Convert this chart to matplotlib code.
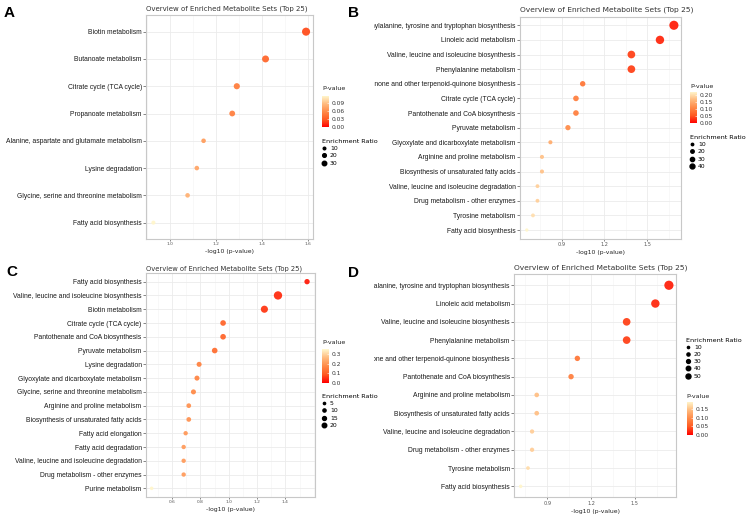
import numpy as np
import matplotlib
matplotlib.use("Agg")
import matplotlib.pyplot as plt
import matplotlib.cm as cm
from matplotlib.colors import LinearSegmentedColormap, Normalize
from matplotlib.lines import Line2D
from matplotlib.ticker import AutoMinorLocator
from matplotlib.transforms import Bbox, TransformedBbox

# ---- data ----
a_names = ["Biotin metabolism", "Butanoate metabolism", "Citrate cycle (TCA cycle)",
           "Propanoate metabolism", "Alanine, aspartate and glutamate metabolism",
           "Lysine degradation", "Glycine, serine and threonine metabolism",
           "Fatty acid biosynthesis"]
a_pval = [0.0256, 0.0384, 0.0512, 0.0536, 0.0714, 0.0764, 0.0838, 0.118]
a_ratio = [31, 23, 18, 16, 10, 10, 10, 8]

b_names = ["Phenylalanine, tyrosine and tryptophan biosynthesis", "Linoleic acid metabolism",
           "Valine, leucine and isoleucine biosynthesis", "Phenylalanine metabolism",
           "Ubiquinone and other terpenoid-quinone biosynthesis", "Citrate cycle (TCA cycle)",
           "Pantothenate and CoA biosynthesis", "Pyruvate metabolism",
           "Glyoxylate and dicarboxylate metabolism", "Arginine and proline metabolism",
           "Biosynthesis of unsaturated fatty acids", "Valine, leucine and isoleucine degradation",
           "Drug metabolism - other enzymes", "Tyrosine metabolism", "Fatty acid biosynthesis"]
b_pval = [0.0206, 0.0258, 0.0409, 0.0409, 0.0897, 0.100, 0.100, 0.1138,
          0.151, 0.173, 0.173, 0.186, 0.186, 0.200, 0.221]
b_ratio = [45, 38, 32, 32, 16, 17, 17, 15, 9, 9, 9, 8, 8, 8, 6]

c_names = ["Fatty acid biosynthesis", "Valine, leucine and isoleucine biosynthesis",
           "Biotin metabolism", "Citrate cycle (TCA cycle)", "Pantothenate and CoA biosynthesis",
           "Pyruvate metabolism", "Lysine degradation", "Glyoxylate and dicarboxylate metabolism",
           "Glycine, serine and threonine metabolism", "Arginine and proline metabolism",
           "Biosynthesis of unsaturated fatty acids", "Fatty acid elongation",
           "Fatty acid degradation", "Valine, leucine and isoleucine degradation",
           "Drug metabolism - other enzymes", "Purine metabolism"]
c_pval = [0.0280, 0.0449, 0.0560, 0.1096, 0.1096, 0.1256, 0.1618, 0.1675,
          0.1774, 0.1914, 0.1914, 0.2014, 0.2080, 0.2080, 0.2080, 0.350]
c_ratio = [9, 22, 16, 10, 10, 10, 8, 8, 8, 7, 7, 6, 6, 6, 6, 4]

d_names = ["Phenylalanine, tyrosine and tryptophan biosynthesis", "Linoleic acid metabolism",
           "Valine, leucine and isoleucine biosynthesis", "Phenylalanine metabolism",
           "Ubiquinone and other terpenoid-quinone biosynthesis",
           "Pantothenate and CoA biosynthesis", "Arginine and proline metabolism",
           "Biosynthesis of unsaturated fatty acids", "Valine, leucine and isoleucine degradation",
           "Drug metabolism - other enzymes", "Tyrosine metabolism", "Fatty acid biosynthesis"]
d_pval = [0.0184, 0.0228, 0.0359, 0.0359, 0.0783, 0.0865, 0.1489, 0.1489,
          0.1603, 0.1603, 0.1710, 0.1919]
d_ratio = [55, 46, 38, 38, 19, 19, 14, 14, 12, 12, 9, 8]

TITLE = "Overview of Enriched Metabolite Sets (Top 25)"

W, H = 748, 515
fig = plt.figure(figsize=(W / 100, H / 100), dpi=100)
cmap = LinearSegmentedColormap.from_list(
    "pv", ["#FF0000", "#FF5A22", "#FF8A48", "#FFBA7E", "#FFF6CC"])


def px(l, t, r, b):
    return [l / W, 1 - b / H, (r - l) / W, (b - t) / H]


def panel(letter, lxy, names, pvals, ratio, box, xlim, xticks, tick_fs, c_px, title_y,
          title_fs, xlab_pad, leg_xy, leg_vals, pv_xy, cb_box, cb_ticks, cb_fmt, clip=False):
    ax = fig.add_axes(px(*box))
    n = len(names)
    yy = np.arange(n)[::-1]
    xx = -np.log10(np.array(pvals))
    sizes = (c_px * np.sqrt(np.array(ratio)) * 0.72) ** 2
    norm = Normalize(0, max(pvals))
    ax.scatter(xx, yy, s=sizes, c=pvals, cmap=cmap, norm=norm, edgecolors="none",
               alpha=0.95, zorder=3)

    ax.set_xlim(*xlim)
    ax.set_ylim(-0.6, n - 0.4)
    ax.set_xticks(xticks)
    ax.set_xticklabels(["%.1f" % t for t in xticks])
    ax.xaxis.set_minor_locator(AutoMinorLocator(2))
    ax.set_yticks(yy)
    ax.set_yticklabels(names, family="Liberation Sans", fontsize=4.9, color="#1a1a1a")
    ax.tick_params(axis="y", length=2, width=0.5, pad=1, color="#555555")
    ax.tick_params(axis="x", length=1.5, width=0.5, pad=1, color="#555555",
                   labelsize=tick_fs, labelcolor="#555555")
    ax.tick_params(which="minor", length=0)
    ax.grid(which="major", color="#EBEBEB", lw=0.6, zorder=0)
    ax.grid(which="minor", axis="x", color="#F3F3F3", lw=0.4, zorder=0)
    ax.set_axisbelow(True)
    for sp in ax.spines.values():
        sp.set_color("#C8C8C8")
        sp.set_linewidth(0.8)
    ax.set_xlabel("-log10 (p-value)", fontsize=4.4, color="#222222", labelpad=xlab_pad)

    fig.text(box[0] / W, 1 - title_y / H, TITLE, fontsize=title_fs, color="#333333",
             va="center", ha="left")
    fig.text(lxy[0] / W, 1 - lxy[1] / H, letter, fontsize=11, fontweight="bold",
             family="Liberation Sans", va="baseline")

    if clip:
        cb_clip = TransformedBbox(Bbox.from_extents(374 / W, 0, 1, 1), fig.transFigure)
        for lab in ax.get_yticklabels():
            lab.set_clip_on(True)
            lab.set_clip_box(cb_clip)

    # size legend
    handles = [Line2D([], [], ls="", marker="o", color="black",
                      markersize=c_px * np.sqrt(v) * 0.72 * 0.57) for v in leg_vals]
    fig.legend(handles, [str(v) for v in leg_vals], loc="upper left",
               bbox_to_anchor=(leg_xy[0] / W, 1 - leg_xy[1] / H), frameon=False,
               title="Enrichment Ratio", fontsize=4.4, title_fontsize=4.6, alignment="left",
               borderpad=0, borderaxespad=0, handlelength=0.8, handletextpad=0.5,
               labelspacing=0.32)

    # p-value colourbar
    cax = fig.add_axes(px(*cb_box))
    cb = fig.colorbar(cm.ScalarMappable(norm=norm, cmap=cmap), cax=cax, ticks=cb_ticks)
    cb.outline.set_visible(False)
    cax.tick_params(labelsize=4.3, length=1.5, width=0.4, color="white", direction="in",
                    pad=2, labelcolor="#333333")
    cb.ax.set_yticklabels([cb_fmt % t for t in cb_ticks])
    fig.text(pv_xy[0] / W, 1 - pv_xy[1] / H, "P-value", fontsize=4.6, va="center",
             color="#222222")


panel("A", (4, 17.3), a_names, a_pval, a_ratio, (146, 15.3, 313, 239), (0.896, 1.622),
      [1.0, 1.2, 1.4, 1.6], 3.2, 1.45, 9, 5.0, 2, (322, 139), [10, 20, 30], (322, 88),
      (322, 96, 329, 127.3), [0.0, 0.03, 0.06, 0.09], "%.2f")
panel("B", (348, 17.3), b_names, b_pval, b_ratio, (519.7, 16.5, 681.3, 238.8),
      (0.606, 1.738), [0.9, 1.2, 1.5], 3.6, 1.36, 10, 5.4, 2, (690, 135),
      [10, 20, 30, 40], (690, 86), (690, 91.7, 697, 123.3),
      [0.0, 0.05, 0.10, 0.15, 0.20], "%.2f", clip=True)
panel("C", (6.7, 275.7), c_names, c_pval, c_ratio, (145.7, 273.4, 315, 496.6),
      (0.414, 1.609), [0.6, 0.8, 1.0, 1.2, 1.4], 3.2, 1.78, 268.3, 4.85, 2, (322, 394),
      [5, 10, 15, 20], (322, 342.3), (322, 349.3, 329, 382.7), [0.0, 0.1, 0.2, 0.3], "%.1f")
panel("D", (348, 276.7), d_names, d_pval, d_ratio, (514, 274.3, 676.3, 497.3),
      (0.671, 1.786), [0.9, 1.2, 1.5], 3.6, 1.24, 267.3, 5.4, 2, (686, 337.5),
      [10, 20, 30, 40, 50], (686, 396.7), (686.5, 401.7, 693.3, 435),
      [0.0, 0.05, 0.10, 0.15], "%.2f", clip=True)

fig.savefig("out.png", dpi=100)
